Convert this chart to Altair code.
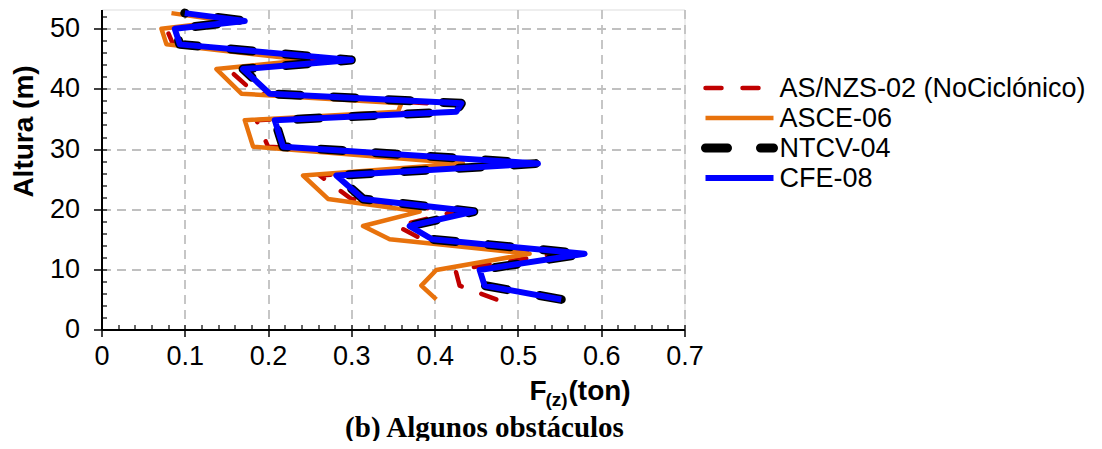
import altair as alt
import pandas as pd

# ---------------- data ----------------
heights = [5.0, 7.3, 9.9, 12.6, 15.0, 17.2, 19.6, 21.7, 25.6, 27.6, 30.4,
           34.8, 36.2, 37.6, 39.2, 43.3, 44.8, 47.4, 50.0, 51.3, 52.6]

asnzs = [0.474, 0.430, 0.425, 0.545, 0.385, 0.355, 0.425, 0.300, 0.262, 0.500, 0.200,
         0.186, 0.390, 0.395, 0.185, 0.152, 0.262, 0.086, 0.078, 0.160, 0.092]
asce = [0.402, 0.384, 0.402, 0.514, 0.346, 0.314, 0.382, 0.272, 0.242, 0.434, 0.182,
        0.172, 0.356, 0.360, 0.168, 0.138, 0.246, 0.078, 0.072, 0.150, 0.084]
ntcv = [0.552, 0.460, 0.454, 0.580, 0.397, 0.370, 0.447, 0.314, 0.282, 0.524, 0.218,
        0.208, 0.426, 0.432, 0.202, 0.170, 0.300, 0.094, 0.088, 0.172, 0.100]
cfe = [0.552, 0.460, 0.454, 0.580, 0.397, 0.370, 0.447, 0.314, 0.282, 0.524, 0.218,
       0.208, 0.426, 0.432, 0.202, 0.170, 0.300, 0.094, 0.088, 0.172, 0.100]

series_names = ["AS/NZS-02 (NoCiclónico)", "ASCE-06", "NTCV-04", "CFE-08"]
series_values = [asnzs, asce, ntcv, cfe]

x_ticks = [0, 0.1, 0.2, 0.3, 0.4, 0.5, 0.6, 0.7]
y_ticks = [0, 10, 20, 30, 40, 50]
x_minor = [round(i * 0.02, 2) for i in range(36)]
y_minor = list(range(0, 54, 2))

x_title_parts = ["F", "(z)", "(ton)"]
y_title = "Altura (m)"
caption = "(b) Algunos obstáculos"

# ---------------- styles ----------------
W, H = 583, 320
FONT = "Liberation Sans"
styles = [
    dict(color="#c00000", strokeWidth=4.5, strokeDash=[16, 21], strokeCap="round"),
    dict(color="#e8720c", strokeWidth=4.5),
    dict(color="#000000", strokeWidth=9, strokeDash=[22, 33], strokeCap="round"),
    dict(color="#0000ff", strokeWidth=6),
]

xscale = alt.Scale(domain=[0, 0.7], nice=False, zero=False)
yscale = alt.Scale(domain=[0, 53.2], nice=False, zero=False)

x_axis = alt.Axis(values=x_ticks, format="~g", title=None, grid=True,
                  gridDash=[9, 6], gridColor="#c0c0c0", gridWidth=1.8,
                  domainColor="black", domainWidth=2, tickColor="black",
                  tickWidth=1.5, tickSize=7, labelFont=FONT, labelFontSize=27,
                  labelColor="black", labelPadding=7, labelFlush=False,
                  labelOverlap=False, orient="bottom")
y_axis = alt.Axis(values=y_ticks, title=None, grid=True,
                  gridDash=[9, 6], gridColor="#c0c0c0", gridWidth=1.8,
                  domainColor="black", domainWidth=2, tickColor="black",
                  tickWidth=1.5, tickSize=8, labelFont=FONT, labelFontSize=27,
                  labelColor="black", labelPadding=14, labelFlush=False,
                  labelOverlap=False, orient="left")

layers = []
for i, (name, vals) in enumerate(zip(series_names, series_values)):
    df = pd.DataFrame({"F": vals, "z": heights, "idx": list(range(len(vals))),
                       "serie": name})
    st = styles[i]
    mk = dict(color=st["color"], strokeWidth=st["strokeWidth"], strokeJoin="round")
    if "strokeDash" in st:
        mk["strokeDash"] = st["strokeDash"]
        mk["strokeCap"] = st["strokeCap"]
    enc = dict(
        x=alt.X("F:Q", scale=xscale, axis=x_axis if i == 0 else None),
        y=alt.Y("z:Q", scale=yscale, axis=y_axis if i == 0 else None),
        order="idx:Q",
    )
    layers.append(alt.Chart(df).mark_line(**mk).encode(**enc))

# minor ticks (inside the frame) via offset axes
minor_df = pd.DataFrame({"F": [0.0], "z": [0.0]})
minor = alt.Chart(minor_df).mark_point(opacity=0).encode(
    x=alt.X("F:Q", scale=xscale,
            axis=alt.Axis(values=x_minor, labels=False, domain=False, grid=False,
                          tickSize=5, offset=-5, tickColor="black", tickWidth=1.2,
                          title=None, orient="bottom")),
    y=alt.Y("z:Q", scale=yscale,
            axis=alt.Axis(values=y_minor, labels=False, domain=False, grid=False,
                          tickSize=5, offset=-5, tickColor="black", tickWidth=1.2,
                          title=None, orient="left")),
)

# manual legend
leg_layers = []
for i, name in enumerate(series_names):
    st = styles[i]
    ldf = pd.DataFrame({"serie": [name]})
    mk = dict(color=st["color"], strokeWidth=st["strokeWidth"])
    if "strokeDash" in st:
        mk["strokeDash"] = st["strokeDash"]
        mk["strokeCap"] = st["strokeCap"]
    ry = 78.5 + 30 * i
    leg_layers.append(alt.Chart(ldf).mark_rule(**mk).encode(
        x=alt.value(604), x2=alt.value(672), y=alt.value(ry)))
    leg_layers.append(alt.Chart(ldf).mark_text(
        align="left", baseline="middle", font=FONT, fontSize=27, color="black"
    ).encode(x=alt.value(678), y=alt.value(ry + 1), text="serie:N"))

# titles as text marks
tdf = pd.DataFrame({"t": [y_title]})
ytitle = alt.Chart(tdf).mark_text(angle=270, font=FONT, fontSize=28, fontWeight="bold",
                                  align="center", baseline="middle", color="black"
                                  ).encode(x=alt.value(-77), y=alt.value(122), text="t:N")

xt = []
xt_pos = [(428, 390, 28), (444, 396, 19), (467, 390, 28)]
for part, (px, py, fs) in zip(x_title_parts, xt_pos):
    xt.append(alt.Chart(pd.DataFrame({"t": [part]})).mark_text(
        font=FONT, fontSize=fs, fontWeight="bold", align="left",
        baseline="alphabetic", color="black"
    ).encode(x=alt.value(px), y=alt.value(py), text="t:N"))

cap = alt.Chart(pd.DataFrame({"t": [caption]})).mark_text(
    font="Liberation Serif", fontSize=29, fontWeight="bold", align="center",
    baseline="alphabetic", color="black"
).encode(x=alt.value(383), y=alt.value(427), text="t:N")

chart = alt.layer(*layers, minor, *leg_layers, ytitle, *xt, cap).resolve_axis(
    x="independent", y="independent"
).properties(
    width=W, height=H,
    padding={"left": 93.5, "top": 1.5, "right": 409.5, "bottom": 111.5},
    autosize=alt.AutoSizeParams(type="none"),
).configure_view(stroke="black", strokeWidth=2).configure(background="white")

chart.save("out.html", embed_options={"renderer": "svg", "actions": False})
